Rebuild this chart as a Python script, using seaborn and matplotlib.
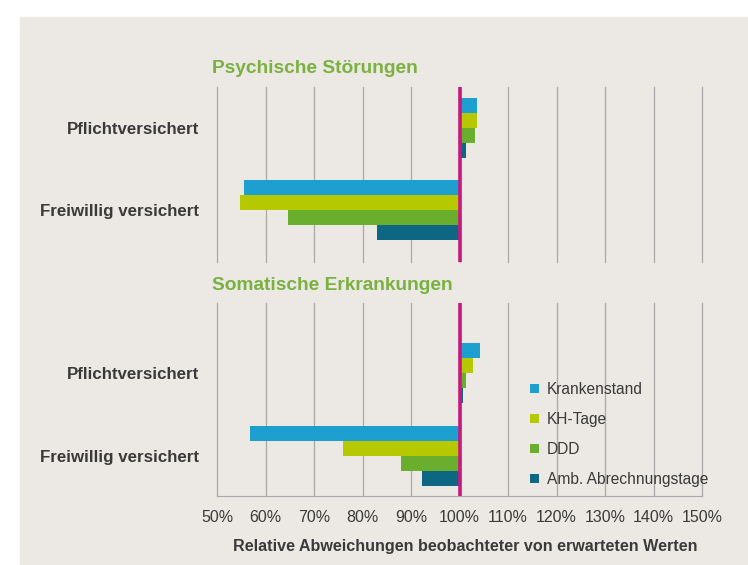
"""
Relative Abweichungen beobachteter von erwarteten Werten,
psychische Störungen und somatische Erkrankungen nach Versichertenstatus.
"""
import matplotlib.pyplot as plt
import matplotlib.ticker as mticker
import pandas as pd
import seaborn as sns

# Daten (in Prozent der erwarteten Werte)
groups = ["Pflichtversichert", "Freiwillig versichert"]
measures = ["Krankenstand", "KH-Tage", "DDD", "Amb. Abrechnungstage"]

psych_pflicht = [103.7, 103.6, 103.2, 101.4]
psych_freiwillig = [55.6, 54.7, 64.6, 82.9]
soma_pflicht = [104.3, 102.7, 101.4, 100.7]
soma_freiwillig = [56.8, 75.9, 87.9, 92.2]

x_ticks = [50, 60, 70, 80, 90, 100, 110, 120, 130, 140, 150]

colors = ["#1d9fd0", "#b6c800", "#6aae2e", "#0d6783"]
bg = "#ece9e4"
green = "#7ab140"
text_col = "#3a3a3a"


def make_frame(pflicht, freiwillig):
    rows = []
    for grp, vals in zip(groups, [pflicht, freiwillig]):
        for m, v in zip(measures, vals):
            # Balken starten bei 100 %: Abweichung zeichnen
            rows.append({"Gruppe": grp, "Kennzahl": m, "Abw": v - 100})
    return pd.DataFrame(rows)


plt.rcParams["font.family"] = ["Liberation Sans", "DejaVu Sans"]

fig = plt.figure(figsize=(7.48, 5.65), dpi=100, facecolor="white")
# beiger Hintergrund-Kasten
fig.patches.append(plt.Rectangle((20 / 748, 0), 728 / 748, 1 - 17 / 565,
                                 transform=fig.transFigure, color=bg, zorder=-5))

ax1 = fig.add_axes([217 / 748, 1 - 262 / 565, 485 / 748, 175 / 565])
ax2 = fig.add_axes([217 / 748, 1 - 496 / 565, 485 / 748, 193 / 565])

panels = [
    (ax1, make_frame(psych_pflicht, psych_freiwillig), (1.634, -0.5)),
    (ax2, make_frame(soma_pflicht, soma_freiwillig), (1.48, -0.843)),
]

for ax, df, ylim in panels:
    ax.set_facecolor("none")
    sns.barplot(data=df, x="Abw", y="Gruppe", hue="Kennzahl", order=groups,
                hue_order=measures, palette=colors, orient="h", width=0.73,
                saturation=1, linewidth=0, ax=ax, legend=(ax is ax2), zorder=2)
    ax.set_xlim(-50, 50)
    ax.set_ylim(*ylim)
    ax.set_xticks([t - 100 for t in x_ticks])
    ax.xaxis.set_major_formatter(mticker.FuncFormatter(lambda v, p: f"{v + 100:.0f}%"))
    ax.grid(axis="x", color="#a9a9a9", lw=0.9, zorder=0)
    ax.grid(axis="y", visible=False)
    for gl in ax.get_xgridlines():
        gl.set_clip_on(False)
    ax.set_axisbelow(True)
    ax.axvline(0, color="#c8187d", lw=2.6, zorder=5)
    for s in ["top", "right", "left", "bottom"]:
        ax.spines[s].set_visible(False)
    ax.tick_params(axis="y", length=0, pad=13, labelsize=12.2, labelcolor=text_col)
    for lab in ax.get_yticklabels():
        lab.set_fontweight("bold")
    ax.set_xlabel("")
    ax.set_ylabel("")

ax1.tick_params(axis="x", length=0, labelbottom=False)
ax2.spines["bottom"].set_visible(True)
ax2.spines["bottom"].set_color("#a9a9a9")
ax2.tick_params(axis="x", length=0, pad=10, labelsize=11.5, labelcolor=text_col)

handles, labels = ax2.get_legend_handles_labels()
ax2.legend(handles, labels, loc="upper left", bbox_to_anchor=(516 / 748, 1 - 368 / 565),
           bbox_transform=fig.transFigure, frameon=False, fontsize=11.2,
           handlelength=0.55, handleheight=0.55, handletextpad=0.55, labelspacing=0.96,
           labelcolor=text_col)

fig.text(212 / 748, 1 - 68 / 565, "Psychische Störungen", color=green,
         fontsize=13.8, fontweight="bold", va="center", ha="left")
fig.text(212 / 748, 1 - 285 / 565, "Somatische Erkrankungen", color=green,
         fontsize=13.8, fontweight="bold", va="center", ha="left")
fig.text(465 / 748, 1 - 547 / 565, "Relative Abweichungen beobachteter von erwarteten Werten",
         color=text_col, fontsize=11.6, fontweight="bold", va="center", ha="center")

fig.savefig("out.png", dpi=100, facecolor="white")
